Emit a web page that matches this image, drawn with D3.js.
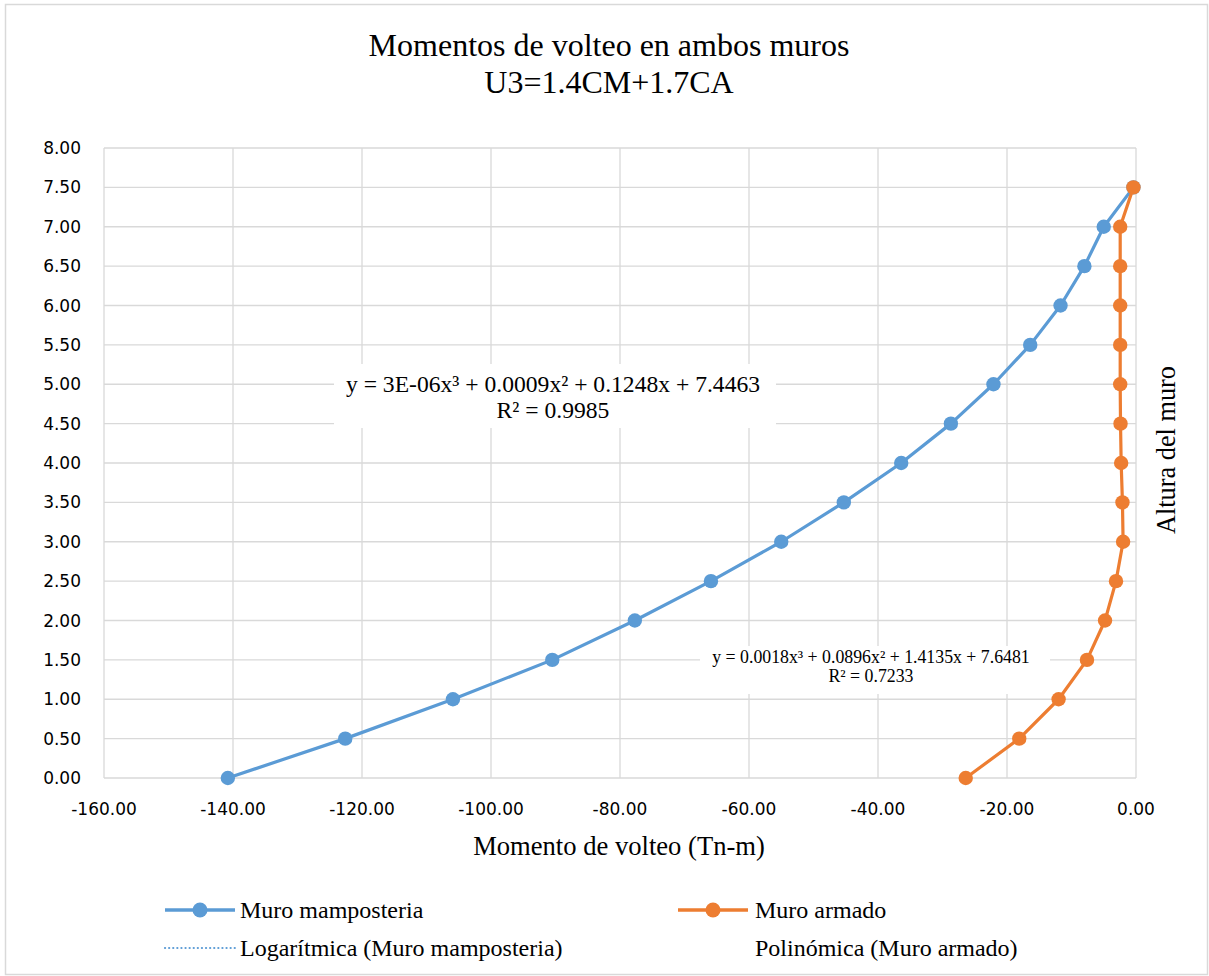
<!DOCTYPE html>
<html><head><meta charset="utf-8">
<script src="https://cdn.jsdelivr.net/npm/d3@7"></script>
<style>
html,body{margin:0;padding:0;background:#fff;}
svg{display:block;}
</style></head>
<body>
<svg id="chart" width="1209" height="976"></svg>
<script>
// ---- data ----
const heights = [0, 0.5, 1.0, 1.5, 2.0, 2.5, 3.0, 3.5, 4.0, 4.5, 5.0, 5.5, 6.0, 6.5, 7.0, 7.5];
const muroMamposteria = [-140.8, -122.6, -105.9, -90.5, -77.7, -65.9, -55.0, -45.3, -36.4, -28.7, -22.1, -16.4, -11.7, -8.0, -5.0, -0.4];
const muroArmado = [-26.4, -18.1, -12.0, -7.6, -4.8, -3.1, -2.0, -2.1, -2.3, -2.4, -2.45, -2.45, -2.45, -2.45, -2.45, -0.4];
const xTicks = [-160, -140, -120, -100, -80, -60, -40, -20, 0];
const yTicks = [0, 0.5, 1, 1.5, 2, 2.5, 3, 3.5, 4, 4.5, 5, 5.5, 6, 6.5, 7, 7.5, 8];
const titleLines = ["Momentos de volteo en ambos muros", "U3=1.4CM+1.7CA"];
const xTitle = "Momento de volteo (Tn-m)";
const yTitle = "Altura del muro";
const eqMamposteria = ["y = 3E-06x³ + 0.0009x² + 0.1248x + 7.4463", "R² = 0.9985"];
const eqArmado = ["y = 0.0018x³ + 0.0896x² + 1.4135x + 7.6481", "R² = 0.7233"];
const legendItems = ["Muro mamposteria", "Muro armado", "Logarítmica (Muro mamposteria)", "Polinómica (Muro armado)"];

const BLUE = "#5b9bd5", ORANGE = "#ed7d31", GRID = "#d9d9d9";
const SERIF = "'Liberation Serif','Times New Roman',serif";
const SANS = "'DejaVu Sans',sans-serif";

const svg = d3.select("#chart");
svg.append("rect").attr("x", 5.5).attr("y", 4.5).attr("width", 1202).attr("height", 970)
  .attr("fill", "#fff").attr("stroke", GRID).attr("stroke-width", 1.5);

const x = d3.scaleLinear().domain([-160, 0]).range([104, 1136]);
const y = d3.scaleLinear().domain([0, 8]).range([778, 148]);

// gridlines
const g = svg.append("g");
g.selectAll("line.h").data(yTicks).join("line")
  .attr("x1", x(-160)).attr("x2", x(0)).attr("y1", d => y(d)).attr("y2", d => y(d))
  .attr("stroke", GRID).attr("stroke-width", 1.3);
g.selectAll("line.v").data(xTicks).join("line")
  .attr("y1", y(0)).attr("y2", y(8)).attr("x1", d => x(d)).attr("x2", d => x(d))
  .attr("stroke", GRID).attr("stroke-width", 1.3);

// tick labels
svg.append("g").selectAll("text").data(yTicks).join("text")
  .attr("x", 81).attr("y", d => y(d)).attr("dy", "0.36em")
  .attr("text-anchor", "end").attr("font-family", SANS).attr("font-size", 17)
  .attr("fill", "#000").text(d => d.toFixed(2));
svg.append("g").selectAll("text").data(xTicks).join("text")
  .attr("x", d => x(d)).attr("y", 815).attr("text-anchor", "middle")
  .attr("font-family", SANS).attr("font-size", 17).attr("fill", "#000")
  .text(d => d.toFixed(2));

// equation boxes
function eqBox(lines, cx, b1, lh, fs, box) {
  svg.append("rect").attr("x", box[0]).attr("y", box[1]).attr("width", box[2] - box[0])
    .attr("height", box[3] - box[1]).attr("fill", "#fff");
  svg.append("g").selectAll("text").data(lines).join("text")
    .attr("x", cx).attr("y", (d, i) => b1 + i * lh).attr("text-anchor", "middle")
    .attr("font-family", SERIF).attr("font-size", fs).attr("fill", "#000").text(d => d);
}
eqBox(eqMamposteria, 553, 392, 25.5, 23.6, [334, 364, 776, 428]);
eqBox(eqArmado, 871, 663, 18.5, 17.8, [700, 646, 1050, 694]);

// series
function drawSeries(vals, color) {
  const pts = heights.map((h, i) => [vals[i], h]);
  svg.append("path").datum(pts)
    .attr("d", d3.line().x(d => x(d[0])).y(d => y(d[1])))
    .attr("fill", "none").attr("stroke", color).attr("stroke-width", 3.2)
    .attr("stroke-linejoin", "round");
  svg.append("g").selectAll("circle").data(pts).join("circle")
    .attr("cx", d => x(d[0])).attr("cy", d => y(d[1])).attr("r", 7.2)
    .attr("fill", color);
}
drawSeries(muroMamposteria, BLUE);
drawSeries(muroArmado, ORANGE);

// titles
svg.append("g").selectAll("text").data(titleLines).join("text")
  .attr("x", 609).attr("y", (d, i) => 56 + i * 37).attr("text-anchor", "middle")
  .attr("font-family", SERIF).attr("font-size", 32).attr("fill", "#000").text(d => d);
svg.append("text").attr("x", 619).attr("y", 855).attr("text-anchor", "middle")
  .attr("font-family", SERIF).attr("font-size", 26.6).attr("fill", "#000").text(xTitle);
svg.append("text").attr("transform", "translate(1175,450) rotate(-90)")
  .attr("text-anchor", "middle").attr("font-family", SERIF).attr("font-size", 26.3)
  .attr("fill", "#000").text(yTitle);

// legend
const leg = svg.append("g");
const rows = [910, 948];
const cols = [165, 678];
function legLine(x0, yy, color, dotted) {
  leg.append("line").attr("x1", x0).attr("x2", x0 + 70).attr("y1", yy).attr("y2", yy)
    .attr("stroke", color).attr("stroke-width", dotted ? 2.2 : 3.4)
    .attr("stroke-linecap", dotted ? "round" : "butt")
    .attr("stroke-dasharray", dotted ? "0.1,4" : null);
  if (!dotted) leg.append("circle").attr("cx", x0 + 35).attr("cy", yy).attr("r", 7.5).attr("fill", color);
}
legLine(cols[0], rows[0], BLUE, false);
legLine(cols[1], rows[0], ORANGE, false);
legLine(cols[0], rows[1], BLUE, true);
const legPos = [[240, rows[0]], [755, rows[0]], [240, rows[1]], [755, rows[1]]];
leg.selectAll("text").data(legendItems).join("text")
  .attr("x", (d, i) => legPos[i][0]).attr("y", (d, i) => legPos[i][1]).attr("dy", "0.33em")
  .attr("font-family", SERIF).attr("font-size", 24).attr("fill", "#000").text(d => d);
</script>
</body></html>
